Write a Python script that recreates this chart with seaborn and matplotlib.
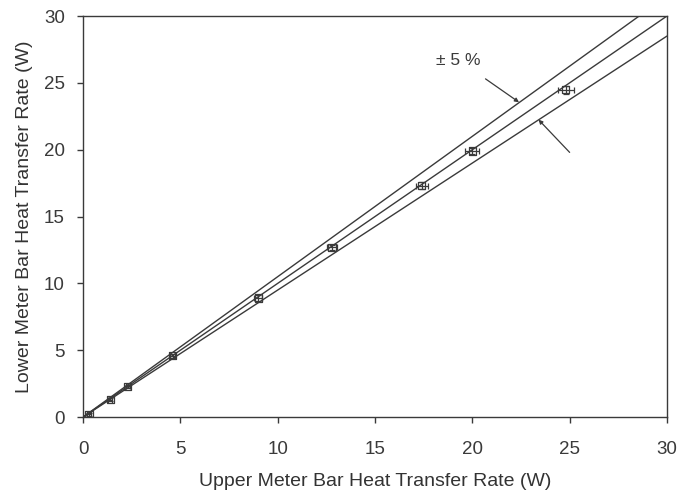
import matplotlib
matplotlib.use('Agg')
import matplotlib.pyplot as plt
import seaborn as sns
import pandas as pd

# measured heat transfer rates (W)
upper_q = [0.3, 1.4, 2.3, 4.6, 9.0, 12.8, 17.4, 20.0, 24.8]
lower_q = [0.2, 1.3, 2.3, 4.6, 8.9, 12.7, 17.3, 19.9, 24.5]
upper_err = [0.1, 0.1, 0.1, 0.15, 0.2, 0.25, 0.3, 0.35, 0.4]
lower_err = [0.1, 0.1, 0.1, 0.15, 0.2, 0.2, 0.25, 0.25, 0.3]

# reference lines: 1:1 and +/- 5 %
line_x = [0, 30]
line_factors = [1.05, 1.0, 0.95]

sns.set_style('ticks')
plt.rcParams['font.family'] = ['Liberation Sans', 'DejaVu Sans']

fig = plt.figure(figsize=(6.89, 4.93), dpi=100)
ax = fig.add_axes([0.1205, 0.154, 0.8475, 0.8135])

ink = '#3a3a3a'
for f in line_factors:
    df_line = pd.DataFrame({'x': line_x, 'y': [v * f for v in line_x]})
    sns.lineplot(data=df_line, x='x', y='y', ax=ax, color=ink, lw=1.0)

df = pd.DataFrame({'upper': upper_q, 'lower': lower_q})
ax.errorbar(upper_q, lower_q, xerr=upper_err, yerr=lower_err, fmt='none',
            ecolor=ink, elinewidth=0.9, capsize=2, capthick=0.9, zorder=3)
sns.scatterplot(data=df, x='upper', y='lower', ax=ax, marker='s', s=28,
                facecolor='none', edgecolor=ink, linewidth=0.9, zorder=4)

ax.annotate('± 5 %', xy=(22.4, 23.55), xytext=(19.3, 26.7), fontsize=12.5,
            color=ink, ha='center', va='center',
            arrowprops=dict(arrowstyle='-|>', color=ink, lw=0.9,
                            mutation_scale=6, shrinkA=10, shrinkB=0))
ax.annotate('', xy=(23.4, 22.25), xytext=(25.0, 19.8),
            arrowprops=dict(arrowstyle='-|>', color=ink, lw=0.9,
                            mutation_scale=6, shrinkA=0, shrinkB=0))

ax.set_xlim(0, 30)
ax.set_ylim(0, 30)
ax.set_xticks(range(0, 31, 5))
ax.set_yticks(range(0, 31, 5))
for side in ['top', 'right', 'left', 'bottom']:
    ax.spines[side].set_visible(True)
    ax.spines[side].set_color(ink)
    ax.spines[side].set_linewidth(1.0)
ax.tick_params(axis='both', direction='out', length=4, width=1.0,
               colors=ink, labelsize=13.5, pad=9)
ax.tick_params(axis='x', pad=13)
ax.set_xlabel('Upper Meter Bar Heat Transfer Rate (W)', fontsize=14,
              color='#333333', labelpad=11)
ax.set_ylabel('Lower Meter Bar Heat Transfer Rate (W)', fontsize=14,
              color='#333333', labelpad=8)

plt.savefig('out.png', dpi=100)
